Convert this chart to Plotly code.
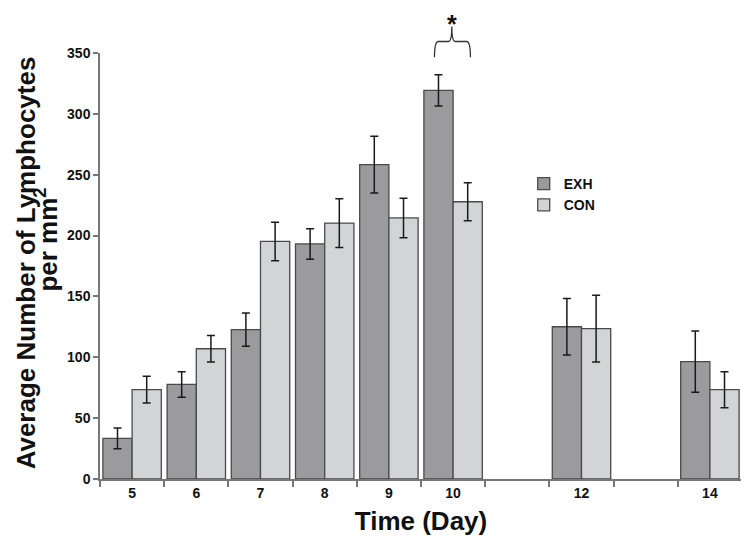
import plotly.graph_objects as go

days = [5, 6, 7, 8, 9, 10, 12, 14]
tick_labels = ["5", "6", "7", "8", "9", "10", "12", "14"]
exh = [33.4, 77.7, 122.7, 193.1, 258.3, 319.3, 125.1, 96.4]
exh_err = [8.6, 10.5, 13.6, 12.6, 23.4, 12.9, 23.3, 25.2]
con = [73.4, 107.0, 195.2, 210.3, 214.5, 227.8, 123.5, 73.4]
con_err = [11.0, 10.8, 15.8, 20.0, 16.2, 15.7, 27.4, 14.8]
y_ticks = [0, 50, 100, 150, 200, 250, 300, 350]

FONT = "Liberation Sans, Arial, sans-serif"
EDGE = "#4a4a4a"
TXT = "#111111"

fig = go.Figure()
fig.add_trace(go.Bar(
    x=days, y=exh, name="<b>EXH</b>",
    marker=dict(color="#9b9b9d", line=dict(color=EDGE, width=1.3)),
    error_y=dict(type="data", array=exh_err, color="#1a1a1a", thickness=1.5, width=4),
))
fig.add_trace(go.Bar(
    x=days, y=con, name="<b>CON</b>",
    marker=dict(color="#d3d4d6", line=dict(color=EDGE, width=1.3)),
    error_y=dict(type="data", array=con_err, color="#1a1a1a", thickness=1.5, width=4),
))

# significance brace over day 10
fig.add_shape(
    type="path", xref="x", yref="paper",
    path=("M 9.71,0.99 Q 9.71,1.027 9.77,1.027 L 9.93,1.027 Q 9.98,1.027 9.98,1.062 "
          "Q 9.98,1.027 10.03,1.027 L 10.21,1.027 Q 10.27,1.027 10.27,0.99"),
    line=dict(color="#333333", width=1.3),
)
fig.add_annotation(x=9.98, y=1.104, xref="x", yref="paper", text="<b>*</b>",
                   showarrow=False, font=dict(size=25, color=TXT, family=FONT),
                   yanchor="top", borderpad=0)

# y-axis title (two tightly spaced lines)
fig.add_annotation(x=-0.115, y=0.5066, xref="paper", yref="paper",
                   text="<b>Average Number of Lymphocytes</b>", textangle=-90,
                   showarrow=False, xanchor="center", yanchor="middle",
                   font=dict(size=26, color=TXT, family=FONT))
fig.add_annotation(x=-0.0826, y=0.562, xref="paper", yref="paper",
                   text="<b>per mm<sup>2</sup></b>", textangle=-90,
                   showarrow=False, xanchor="center", yanchor="middle",
                   font=dict(size=26, color=TXT, family=FONT))

fig.update_layout(
    width=741, height=534,
    margin=dict(l=92, r=7, t=45, b=63, autoexpand=False),
    plot_bgcolor="white", paper_bgcolor="white",
    barmode="group", bargap=0.09, bargroupgap=0,
    font=dict(family=FONT, color=TXT),
    showlegend=True,
    legend=dict(x=0.66, y=0.73, xanchor="left", yanchor="top",
                font=dict(size=14, family=FONT, color=TXT),
                bgcolor="rgba(0,0,0,0)", itemwidth=30),
    xaxis=dict(
        range=[4.5, 14.5], tickvals=days, ticktext=["<b>%s</b>" % t for t in tick_labels],
        ticks="", showgrid=False, zeroline=False,
        showline=True, linecolor="#777777", linewidth=1.5,
        tickfont=dict(size=14, family=FONT, color=TXT),
        minor=dict(ticks="outside", tick0=4.5, dtick=1, ticklen=6, tickcolor="#777777",
                   tickwidth=1.5, showgrid=False),
        title=dict(text="<b>Time (Day)</b>", font=dict(size=26, family=FONT, color=TXT),
                   standoff=12),
    ),
    yaxis=dict(
        range=[0, 350], tickvals=y_ticks, ticktext=["<b>%d</b>" % v for v in y_ticks],
        ticks="outside", ticklen=5, tickcolor="#777777", tickwidth=1.5,
        showgrid=False, zeroline=False,
        showline=True, linecolor="#777777", linewidth=1.5,
        tickfont=dict(size=14, family=FONT, color=TXT),
    ),
)

fig.write_html("out.html")
